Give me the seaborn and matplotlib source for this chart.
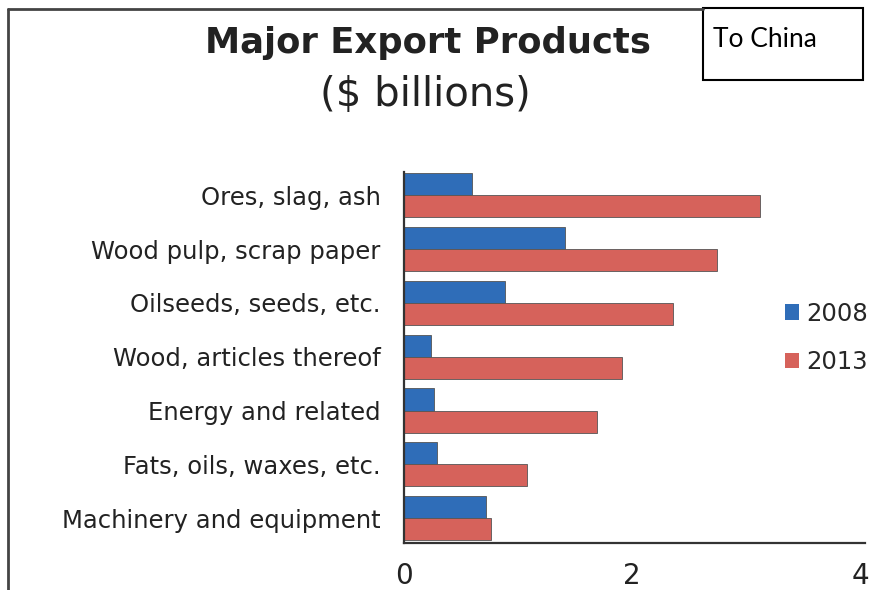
import matplotlib
matplotlib.use("Agg")
import matplotlib.pyplot as plt
from matplotlib.lines import Line2D
from matplotlib.patches import Rectangle, Patch
import pandas as pd
import seaborn as sns

# Export values to China, $ billions
products = [
    "Ores, slag, ash",
    "Wood pulp, scrap paper",
    "Oilseeds, seeds, etc.",
    "Wood, articles thereof",
    "Energy and related",
    "Fats, oils, waxes, etc.",
    "Machinery and equipment",
]
values_2008 = [0.60, 1.41, 0.89, 0.24, 0.26, 0.29, 0.72]
values_2013 = [3.12, 2.75, 2.36, 1.91, 1.69, 1.08, 0.76]
years = ["2008", "2013"]
x_ticks = [0, 2, 4]

df = pd.DataFrame({
    "product": products * 2,
    "value": values_2008 + values_2013,
    "year": [years[0]] * len(products) + [years[1]] * len(products),
})

BLUE = "#2f6db8"
RED = "#d6625b"

sns.set_theme(style="white")
plt.rcParams["font.family"] = ["DejaVu Sans"]

W, H = 895, 590
fig = plt.figure(figsize=(W / 100, H / 100), dpi=100)
fig.patch.set_facecolor("white")

ax = fig.add_axes([404 / W, 1 - 543 / H, 461 / W, 371 / H])
sns.barplot(
    data=df, x="value", y="product", hue="year", orient="h",
    hue_order=years, palette=[BLUE, RED], width=0.82, saturation=1,
    edgecolor="#555555", linewidth=0.6, ax=ax, legend=True,
)

ax.set_xlim(0, 4 * 461 / 456)
ax.set_ylim(6.46, -0.43)
ax.set_xlabel("")
ax.set_ylabel("")
ax.set_xticks(x_ticks)
ax.set_xticklabels([str(t) for t in x_ticks], fontsize=20, color="#222222")
ax.tick_params(axis="x", length=0, pad=14)
ax.tick_params(axis="y", length=0, pad=17, labelsize=17.5, labelcolor="#222222")

for side in ("top", "right"):
    ax.spines[side].set_visible(False)
for side in ("left", "bottom"):
    ax.spines[side].set_color("#333333")
    ax.spines[side].set_linewidth(1.6)

# Legend to the right of the bars
ax.get_legend().remove()
handles = [Patch(facecolor=BLUE, edgecolor="none"), Patch(facecolor=RED, edgecolor="none")]
fig.legend(
    handles, years, loc="upper left", bbox_to_anchor=(775 / W, 1 - 292 / H),
    frameon=False, fontsize=17.5, handlelength=0.6, handleheight=0.6,
    handletextpad=0.3, labelspacing=1.0, borderaxespad=0,
)

# Headings
fig.text(428 / W, 1 - 53 / H, "Major Export Products", ha="center", va="baseline",
         fontsize=25.5, fontweight="bold", color="#222222")
fig.text(425 / W, 1 - 95 / H, "($ billions)", ha="center", va="center",
         fontsize=29, color="#222222")

# Outer frame around the chart
fig.add_artist(Line2D([8 / W, 8 / W], [0, 1 - 9 / H], color="#444444", lw=2))
fig.add_artist(Line2D([8 / W, 703 / W], [1 - 9 / H, 1 - 9 / H], color="#444444", lw=2))

# Callout box
fig.add_artist(Rectangle((703 / W, 1 - 80 / H), 160 / W, 72 / H,
                         facecolor="white", edgecolor="black", lw=1.5,
                         transform=fig.transFigure))
fig.text(713 / W, 1 - 47 / H, "To China", ha="left", va="baseline",
         fontsize=19, family=["Lato", "DejaVu Sans"], color="black")

fig.savefig("out.png", dpi=100)
